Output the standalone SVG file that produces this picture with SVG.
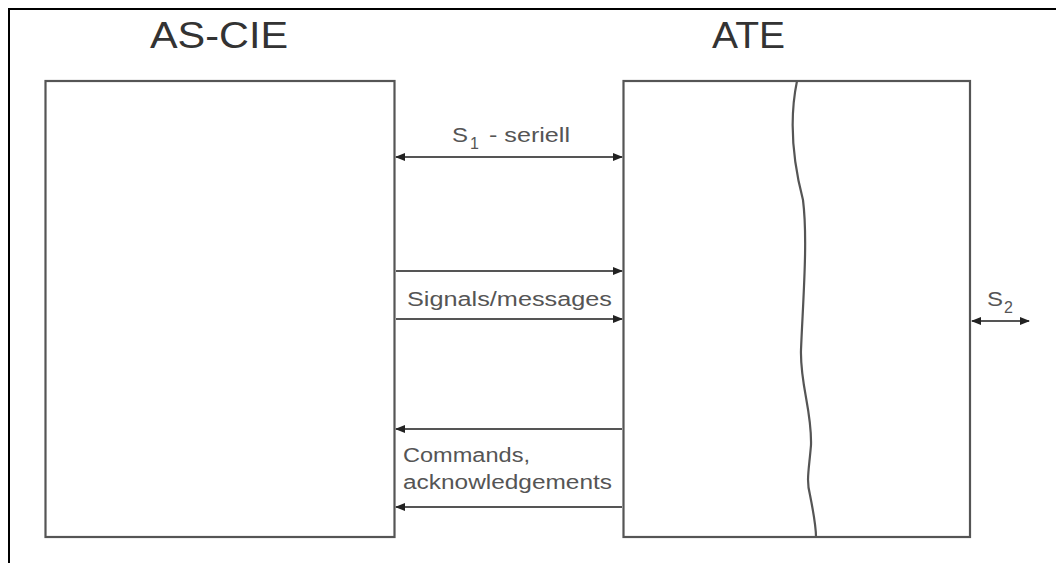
<svg xmlns="http://www.w3.org/2000/svg" width="1056" height="563" viewBox="0 0 1056 563">
<style>
.box{fill:#fff;stroke:#555;stroke-width:2.2}
.ln{fill:none;stroke:#555;stroke-width:2.2}
.title{font-family:"Liberation Sans",Arial,sans-serif;font-size:37px;fill:#333}
.lbl{font-family:"Liberation Sans",Arial,sans-serif;font-size:20px;fill:#555}
.sub{font-family:"Liberation Sans",Arial,sans-serif;font-size:16px;fill:#555}
</style>
<defs>
<marker id="ah" viewBox="0 0 10 10" refX="9" refY="5" markerWidth="10" markerHeight="10" markerUnits="userSpaceOnUse" orient="auto-start-reverse">
<path d="M0,1 L10,5 L0,9 Z" fill="#222"/>
</marker>
</defs>
<rect width="1056" height="563" fill="#fff"/>
<path d="M9,563 V9 H1056" fill="none" stroke="#000" stroke-width="2"/>
<g id="as-cie">
<rect class="box" x="45.5" y="81" width="349" height="456"/>
<text class="title" x="150" y="48" textLength="138" lengthAdjust="spacingAndGlyphs">AS-CIE</text>
</g>
<g id="ate">
<rect class="box" x="623.5" y="81" width="346.5" height="456"/>
<text class="title" x="712" y="48" textLength="73" lengthAdjust="spacingAndGlyphs">ATE</text>
<path class="ln" stroke-width="1.8" d="M797,81 C791,110 790,150 803,200 C808,240 803,300 801,350 C800,385 812,410 811,445 C809,470 806,480 810,495 C813,510 816,525 816,537"/>
</g>
<g id="connectors">
<line class="ln" x1="396" y1="157" x2="622" y2="157" marker-start="url(#ah)" marker-end="url(#ah)"/>
<line class="ln" x1="396" y1="271" x2="622" y2="271" marker-end="url(#ah)"/>
<line class="ln" x1="396" y1="319" x2="622" y2="319" marker-end="url(#ah)"/>
<line class="ln" x1="622" y1="429" x2="396" y2="429" marker-end="url(#ah)"/>
<line class="ln" x1="622" y1="507" x2="396" y2="507" marker-end="url(#ah)"/>
<line class="ln" x1="972" y1="321" x2="1029" y2="321" marker-start="url(#ah)" marker-end="url(#ah)"/>
</g>
<g id="labels">
<text class="lbl" x="452" y="142" textLength="16" lengthAdjust="spacingAndGlyphs">S</text>
<text class="sub" x="470" y="149">1</text>
<text class="lbl" x="489" y="142" textLength="81" lengthAdjust="spacingAndGlyphs">- seriell</text>
<text class="lbl" x="407" y="306" textLength="205" lengthAdjust="spacingAndGlyphs">Signals/messages</text>
<text class="lbl" x="403" y="462" textLength="127" lengthAdjust="spacingAndGlyphs">Commands,</text>
<text class="lbl" x="403" y="489" textLength="209" lengthAdjust="spacingAndGlyphs">acknowledgements</text>
<text class="lbl" x="987" y="306" textLength="16" lengthAdjust="spacingAndGlyphs">S</text>
<text class="sub" x="1004" y="313">2</text>
</g>
</svg>
